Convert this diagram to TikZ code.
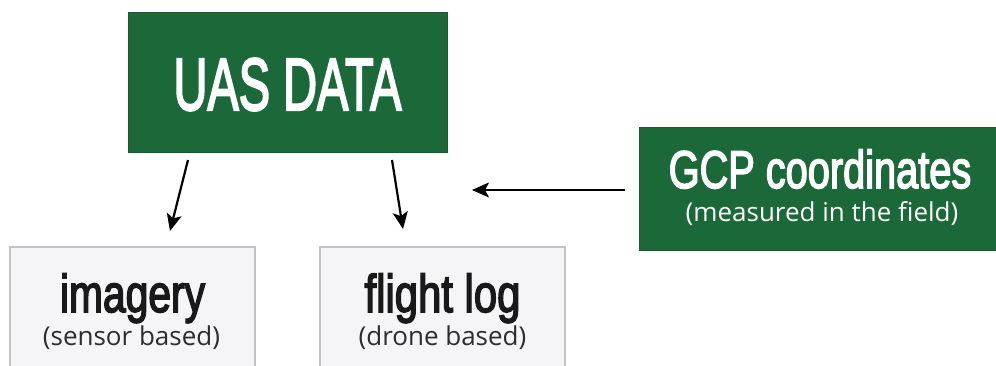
\documentclass[tikz,border=0pt]{standalone}
\usepackage{fontspec}
\setmainfont{Liberation Sans}
\newfontfamily\titlefont[FakeBold=3.2]{Liberation Sans}
\newfontfamily\subfont{Open Sans}
\usetikzlibrary{arrows.meta,calc}
\definecolor{boxgreen}{RGB}{27,105,57}
\definecolor{boxgray}{RGB}{245,245,247}
\definecolor{edgegray}{RGB}{195,195,197}
\definecolor{subgray}{RGB}{45,45,45}
\tikzset{
  greenbox/.style={draw=boxgreen!85!black, line width=0.6pt, fill=boxgreen, rectangle, inner sep=0pt},
  graybox/.style={draw=edgegray, line width=1.2pt, fill=boxgray, rectangle, inner sep=0pt},
  title/.style={anchor=base, inner sep=0pt, font=\titlefont\fontsize{53}{53}\selectfont},
  subtitle/.style={anchor=base, inner sep=0pt, font=\subfont\fontsize{26}{26}\selectfont},
  arr/.style={line width=2.2pt, -{Stealth[length=17pt,width=15pt,inset=4pt]}}
}
\begin{document}
\begin{tikzpicture}[x=1pt,y=-1pt]
\useasboundingbox (0,0) rectangle (996,366);
\clip (0,0) rectangle (996,366);
\fill[white] (0,0) rectangle (996,366);
% boxes
\node[greenbox, minimum width=319pt, minimum height=140pt] (uas) at (287.5,82) {};
\node[greenbox, minimum width=370pt, minimum height=123pt] (gcp) at (824,188.5) {};
\node[graybox, minimum width=245pt, minimum height=140pt] (img) at (132.5,317) {};
\node[graybox, minimum width=245pt, minimum height=140pt] (flt) at (442.5,317) {};
% texts
\node[title, text=white, font=\titlefont\fontsize{74}{74}\selectfont] (uast) at (287.5,110) {\scalebox{0.635}[1]{UAS DATA}};
\node[title, text=white] (gcpt) at (820,188) {\scalebox{0.75}[1]{GCP coordinates}};
\node[subtitle, text=white] (gcps) at (822,222) {(measured in the field)};
\node[title, text=black!90] (imgt) at (132.5,312) {\scalebox{0.77}[1]{imagery}};
\node[subtitle, text=subgray] (imgs) at (131.5,345.5) {(sensor based)};
\node[title, text=black!90] (fltt) at (442.5,312) {\scalebox{0.79}[1]{flight log}};
\node[subtitle, text=subgray] (flts) at (442.5,345.5) {(drone based)};
% connectors
\coordinate (a1s) at (188,160);
\coordinate (a1e) at (170,231);
\coordinate (a2s) at (392,160);
\coordinate (a2e) at (403,229);
\coordinate (a3s) at (625,190);
\coordinate (a3e) at (472,190);
\draw[arr] (a1s) -- (a1e);
\draw[arr] (a2s) -- (a2e);
\draw[arr] (a3s) -- (a3e);
\end{tikzpicture}
\end{document}
